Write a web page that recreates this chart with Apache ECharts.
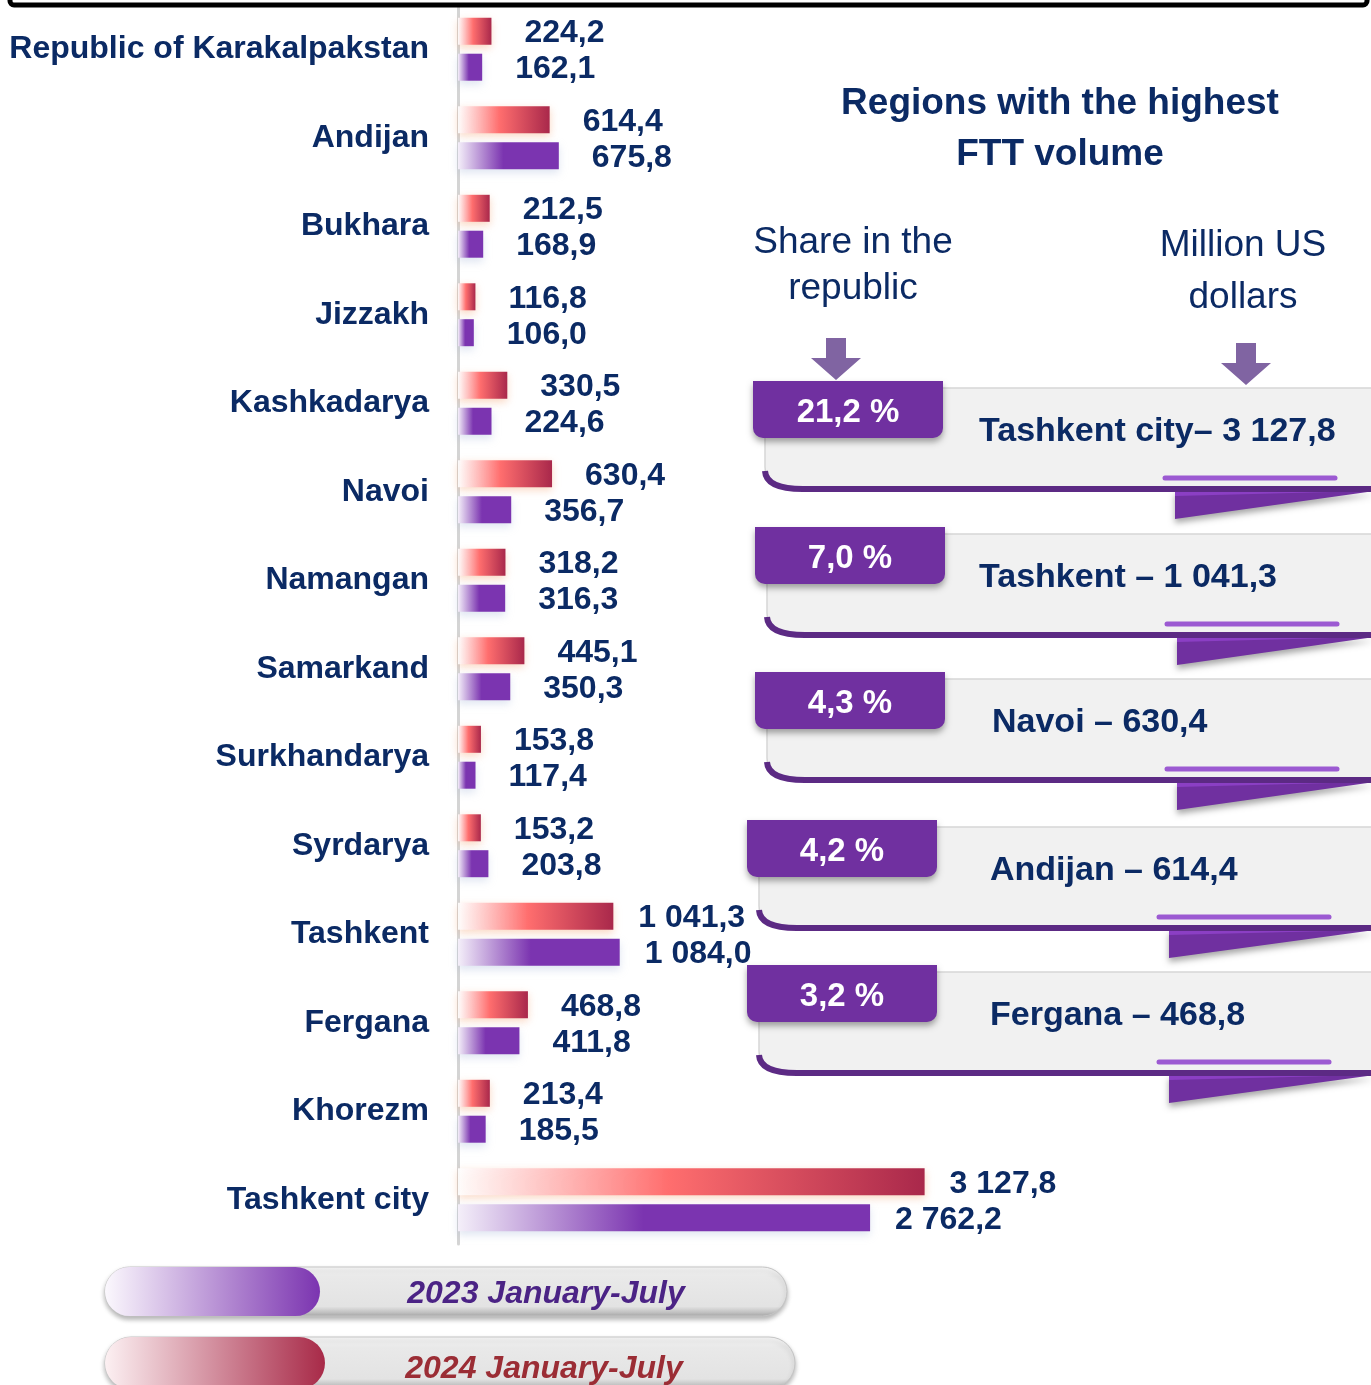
<!DOCTYPE html>
<html>
<head>
<meta charset="utf-8">
<script src="https://cdn.jsdelivr.net/npm/echarts@6/dist/echarts.min.js"></script>
<style>
html, body { margin: 0; padding: 0; background: #fff; }
#chart { width: 1371px; height: 1385px; }
</style>
</head>
<body>
<div id="chart"></div>
<script>
var regions = ['Republic of Karakalpakstan', 'Andijan', 'Bukhara', 'Jizzakh', 'Kashkadarya', 'Navoi', 'Namangan',
    'Samarkand', 'Surkhandarya', 'Syrdarya', 'Tashkent', 'Fergana', 'Khorezm', 'Tashkent city'];
var values2024 = [224.2, 614.4, 212.5, 116.8, 330.5, 630.4, 318.2, 445.1, 153.8, 153.2, 1041.3, 468.8, 213.4, 3127.8];
var values2023 = [162.1, 675.8, 168.9, 106.0, 224.6, 356.7, 316.3, 350.3, 117.4, 203.8, 1084.0, 411.8, 185.5, 2762.2];
var seriesNames = ['2024 January-July', '2023 January-July'];

// right side block
var topRegions = ['Tashkent city', 'Tashkent', 'Navoi', 'Andijan', 'Fergana'];
var topValues = [3127.8, 1041.3, 630.4, 614.4, 468.8];
var topShares = [21.2, 7.0, 4.3, 4.2, 3.2];

var NAVY = '#0b2a64';
var FONT = '"Liberation Sans", Arial, sans-serif';
var DY = 3; // text baseline nudge

function fmt(v) {
    var s = v.toFixed(1).split('.');
    return s[0].replace(/\B(?=(\d{3})+(?!\d))/g, ' ') + ',' + s[1];
}

function barData(arr) {
    return arr.map(function (v) {
        return { value: v, label: { distance: v >= 1000 ? 25 : 33 } };
    });
}

let myChart = echarts.init(document.getElementById('chart'));

// panels with the top regions
var panelPos = [[753, 381], [755, 527], [755, 672], [747, 820], [747, 965]];
var panelTextDx = [226, 224, 237, 243, 243];
var graphics = [];
var z = 10;

function add(el) {
    el.z = z++;
    graphics.push(el);
}

function txt(text, x, y, font, fill, align) {
    add({ type: 'text', style: { text: text, x: x, y: y + DY, textAlign: align || 'center', textVerticalAlign: 'middle',
        fill: fill, font: font + ' ' + FONT } });
}

// frame edge at the top
add({ type: 'rect', shape: { x: 10, y: -40, width: 1357, height: 45, r: 4 },
    style: { fill: 'none', stroke: '#000', lineWidth: 5 } });

txt('Regions with the highest', 1060, 101, 'bold 37px', NAVY);
txt('FTT volume', 1060, 152, 'bold 37px', NAVY);
txt('Share in the', 853, 240, '37px', NAVY);
txt('republic', 853, 286, '37px', NAVY);
txt('Million US', 1243, 243, '37px', NAVY);
txt('dollars', 1243, 295, '37px', NAVY);

function arrow(cx, top) {
    add({ type: 'polygon', shape: { points: [[cx - 10, top], [cx + 10, top], [cx + 10, top + 20], [cx + 25, top + 20],
        [cx, top + 42], [cx - 25, top + 20], [cx - 10, top + 20]] }, style: { fill: '#8064a2' } });
}
arrow(836, 338);
arrow(1246, 343);

topRegions.forEach(function (name, i) {
    var x0 = panelPos[i][0], y0 = panelPos[i][1];
    // ribbon fold
    add({ type: 'polygon', shape: { points: [[x0 + 422, y0 + 110], [1375, y0 + 110], [x0 + 422, y0 + 138]] },
        style: { fill: '#7030a0', shadowBlur: 6, shadowOffsetY: 4, shadowColor: 'rgba(0,0,0,0.35)' } });
    add({ type: 'polygon', shape: { points: [[x0 + 422, y0 + 110], [1375, y0 + 110], [x0 + 422, y0 + 115]] },
        style: { fill: '#8b3fc4' } });
    // body
    add({ type: 'rect', shape: { x: x0 + 12, y: y0 + 7, width: 1400 - x0 - 12, height: 101, r: [0, 30, 0, 22] },
        style: { fill: '#f1f1f1', stroke: '#d6d6d6', lineWidth: 1.5 } });
    add({ type: 'bezierCurve', shape: { x1: x0 + 12, y1: y0 + 90, cpx1: x0 + 13, cpy1: y0 + 108, x2: x0 + 50, y2: y0 + 108 },
        style: { fill: 'none', stroke: '#5c2a84', lineWidth: 6 } });
    add({ type: 'line', shape: { x1: x0 + 48, y1: y0 + 108, x2: 1400, y2: y0 + 108 },
        style: { stroke: '#5c2a84', lineWidth: 6 } });
    add({ type: 'line', shape: { x1: x0 + 412, y1: y0 + 97, x2: x0 + 582, y2: y0 + 97 },
        style: { stroke: '#9c5ad2', lineWidth: 5, lineCap: 'round' } });
    // tab with share
    add({ type: 'rect', shape: { x: x0, y: y0, width: 190, height: 57, r: [0, 0, 10, 10] },
        style: { fill: '#7030a0', shadowBlur: 6, shadowOffsetY: 4, shadowColor: 'rgba(0,0,0,0.35)' } });
    txt(topShares[i].toFixed(1).replace('.', ',') + ' %', x0 + 95, y0 + 29, 'bold 33px', '#fff');
    txt(name + (i === 0 ? '– ' : ' – ') + fmt(topValues[i]), x0 + panelTextDx[i], y0 + 48, 'bold 34px', NAVY, 'left');
});

// legend pills
function pill(x, y, w, h, cw, c0, c1, text, tcol, tx, ty) {
    add({ type: 'rect', shape: { x: x, y: y, width: w, height: h, r: h / 2 },
        style: { fill: new echarts.graphic.LinearGradient(0, 0, 0, 1, [
            { offset: 0, color: '#fbfbfb' }, { offset: 0.2, color: '#e9e9e9' },
            { offset: 0.8, color: '#e3e3e3' }, { offset: 1, color: '#a9a9a9' }]),
            stroke: '#c4c4c4', lineWidth: 1, shadowBlur: 5, shadowOffsetY: 3, shadowColor: 'rgba(0,0,0,0.3)' } });
    add({ type: 'rect', shape: { x: x, y: y, width: cw, height: h, r: h / 2 },
        style: { fill: new echarts.graphic.LinearGradient(0, 0, 1, 0, [
            { offset: 0, color: c0 }, { offset: 1, color: c1 }]) } });
    txt(text, tx, ty, 'italic bold 32px', tcol);
}
pill(105, 1267, 682, 49, 215, '#fbf8fd', '#7b34b0', seriesNames[1], '#4b2385', 546, 1291);
pill(105, 1337, 690, 52, 220, '#fcf0f2', '#a82a48', seriesNames[0], '#9b2d35', 544, 1366);

let option = {
    animation: false,
    grid: { left: 458, top: 5, width: 913, height: 1239 },
    xAxis: { type: 'value', min: 0, max: 6120, show: false },
    yAxis: {
        type: 'category',
        data: regions,
        inverse: true,
        axisLine: { show: true, lineStyle: { color: '#d4d4d4', width: 3 } },
        axisTick: { show: false },
        axisLabel: { color: NAVY, fontSize: 32, fontWeight: 'bold', fontFamily: FONT, margin: 29, padding: [9, 0, 0, 0] }
    },
    series: [
        {
            name: seriesNames[0],
            type: 'bar',
            data: barData(values2024),
            barWidth: 27,
            barGap: '33%',
            itemStyle: {
                color: new echarts.graphic.LinearGradient(0, 0, 1, 0, [
                    { offset: 0, color: 'rgba(255,255,255,0.9)' },
                    { offset: 0.45, color: '#ff6e6e' },
                    { offset: 1, color: '#a9284b' }]),
                shadowColor: 'rgba(240,140,80,0.35)', shadowBlur: 8, shadowOffsetY: 3
            },
            label: { show: true, position: 'right', offset: [0, 2], formatter: function (p) { return fmt(p.value); },
                color: NAVY, fontSize: 32, fontWeight: 'bold', fontFamily: FONT }
        },
        {
            name: seriesNames[1],
            type: 'bar',
            data: barData(values2023),
            barWidth: 27,
            barGap: '33%',
            itemStyle: {
                color: new echarts.graphic.LinearGradient(0, 0, 1, 0, [
                    { offset: 0, color: '#f4eff9' },
                    { offset: 0.45, color: '#7b34b0' },
                    { offset: 1, color: '#7b34b0' }]),
                shadowColor: 'rgba(150,170,210,0.3)', shadowBlur: 8, shadowOffsetY: 4
            },
            label: { show: true, position: 'right', offset: [0, 2], formatter: function (p) { return fmt(p.value); },
                color: NAVY, fontSize: 32, fontWeight: 'bold', fontFamily: FONT }
        }
    ],
    graphic: graphics
};
myChart.setOption(option);
</script>
</body>
</html>
